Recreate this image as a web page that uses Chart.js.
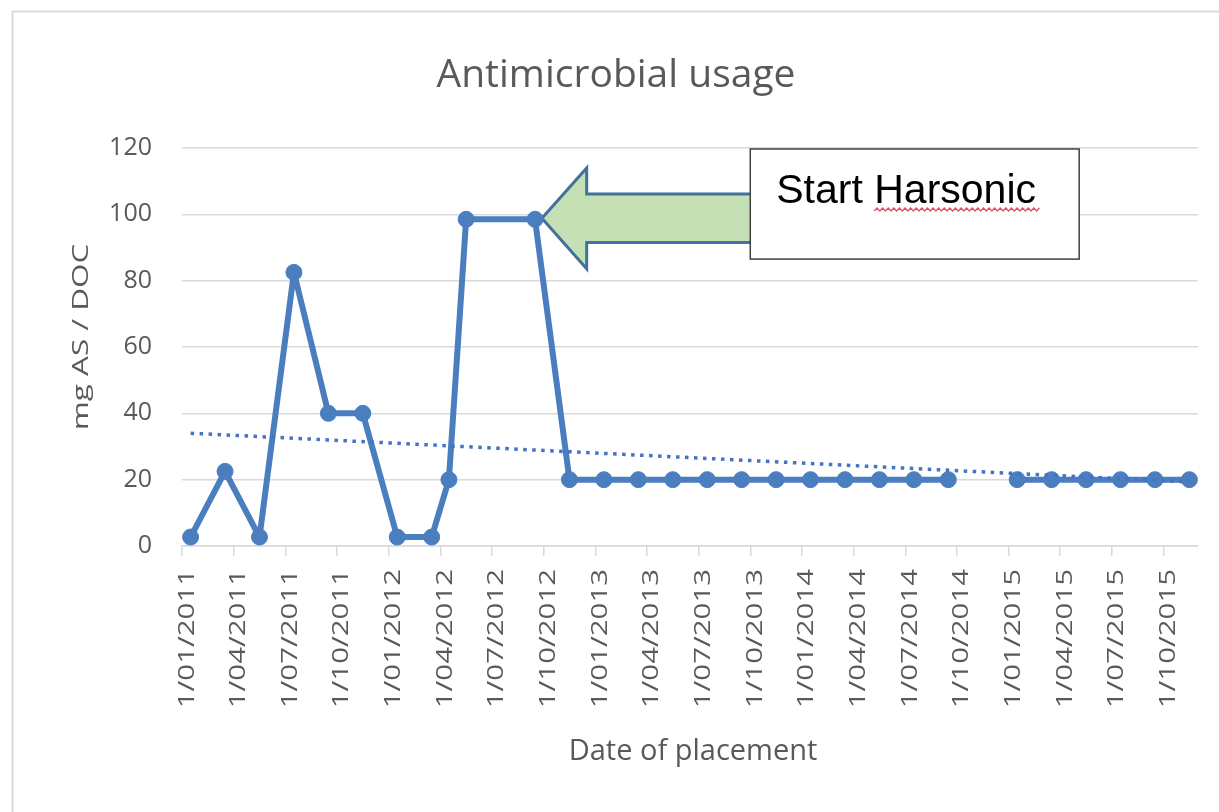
<!DOCTYPE html>
<html>
<head>
<meta charset="utf-8">
<script src="https://cdn.jsdelivr.net/npm/chart.js@4.4.1/dist/chart.umd.min.js"></script>
<style>
  html, body { margin: 0; padding: 0; background: #ffffff; }
  #wrap { width: 1219px; height: 812px; position: relative; }
</style>
</head>
<body>
<div id="wrap"><canvas id="c" width="1219" height="812"></canvas></div>
<script>
// ---------- data ----------
const chartTitle = 'Antimicrobial usage';
const xAxisTitle = 'Date of placement';
const yAxisTitle = 'mg AS / DOC';
const noteText = 'Start Harsonic';

const placementMonths = [
  '2011-01','2011-03','2011-05','2011-07','2011-09','2011-11',
  '2012-01','2012-03','2012-04','2012-05','2012-09','2012-11',
  '2013-01','2013-03','2013-05','2013-07','2013-09','2013-11',
  '2014-01','2014-03','2014-05','2014-07','2014-09','2014-11',
  '2015-01','2015-03','2015-05','2015-07','2015-09','2015-11'
];
const usage = [
  2.7, 22.5, 2.7, 82.5, 40, 40,
  2.7, 2.7, 20, 98.5, 98.5, 20,
  20, 20, 20, 20, 20, 20,
  20, 20, 20, 20, 20, null,
  20, 20, 20, 20, 20, 20
];
const trendMonths = ['2011-01', '2015-11'];
const trendValues = [34, 19.3];

const xTickLabels = [
  '1/01/2011','1/04/2011','1/07/2011','1/10/2011',
  '1/01/2012','1/04/2012','1/07/2012','1/10/2012',
  '1/01/2013','1/04/2013','1/07/2013','1/10/2013',
  '1/01/2014','1/04/2014','1/07/2014','1/10/2014',
  '1/01/2015','1/04/2015','1/07/2015','1/10/2015'
];
const yTickValues = [0, 20, 40, 60, 80, 100, 120];

// ---------- helpers ----------
const START_YEAR = 2011;
function monthPos(s) {          // centre of the month slot on a month-based date axis
  const [y, m] = s.split('-').map(Number);
  return (y - START_YEAR) * 12 + (m - 1) + 0.5;
}
function tickPos(label) {       // start of month for 1/MM/YYYY
  const [d, m, y] = label.split('/').map(Number);
  return (y - START_YEAR) * 12 + (m - 1);
}

const seriesPoints = placementMonths.map((m, i) => ({ x: monthPos(m), y: usage[i] }));
const trendPoints = trendMonths.map((m, i) => ({ x: monthPos(m), y: trendValues[i] }));

// annotation placement (in axis units)
const arrowNote = { tip: 20.9, headBack: 23.5, end: 36, value: 98.8, shaftHalf: 7.3, headHalf: 15.2 };
const boxNote = { from: 33.0, to: 52.1, top: 119.7, bottom: 86.5 };

const BLUE = '#4a7ebf';
const GREY_TEXT = '#595959';
const GRID = '#d9d9d9';

const annotationPlugin = {
  id: 'annot',
  beforeDraw(chart) {
    const ctx = chart.ctx;
    ctx.save();
    ctx.strokeStyle = '#dcdcdc';
    ctx.lineWidth = 2;
    ctx.beginPath();
    ctx.moveTo(12.5, 812);
    ctx.lineTo(12.5, 11.5);
    ctx.lineTo(1219, 11.5);
    ctx.stroke();
    ctx.restore();
  },
  beforeDatasetsDraw(chart) {
    const ctx = chart.ctx;
    const xs = chart.scales.x, ys = chart.scales.y;
    const X = v => xs.getPixelForValue(v), Y = v => ys.getPixelForValue(v);
    // arrow
    const a = arrowNote;
    const cy = Y(a.value);
    const sh = Y(a.value - a.shaftHalf) - cy;
    const hh = Y(a.value - a.headHalf) - cy;
    ctx.save();
    ctx.beginPath();
    ctx.moveTo(X(a.tip), cy);
    ctx.lineTo(X(a.headBack), cy - hh);
    ctx.lineTo(X(a.headBack), cy - sh);
    ctx.lineTo(X(a.end), cy - sh);
    ctx.lineTo(X(a.end), cy + sh);
    ctx.lineTo(X(a.headBack), cy + sh);
    ctx.lineTo(X(a.headBack), cy + hh);
    ctx.closePath();
    ctx.fillStyle = '#c5e0b4';
    ctx.fill();
    ctx.lineWidth = 3;
    ctx.lineJoin = 'miter';
    ctx.strokeStyle = '#41719c';
    ctx.stroke();
    // box
    const b = boxNote;
    const bx = X(b.from), bx2 = X(b.to), by = Y(b.top), by2 = Y(b.bottom);
    ctx.fillStyle = '#ffffff';
    ctx.fillRect(bx, by, bx2 - bx, by2 - by);
    ctx.lineWidth = 1.5;
    ctx.strokeStyle = '#404040';
    ctx.strokeRect(bx, by, bx2 - bx, by2 - by);
    // text
    ctx.font = '41px "Liberation Sans", Arial, sans-serif';
    ctx.fillStyle = '#000000';
    ctx.textAlign = 'left';
    ctx.textBaseline = 'alphabetic';
    const tx = bx + 26, ty = by + 54;
    ctx.fillText(noteText, tx, ty);
    // spell-check squiggle under second word
    const words = noteText.split(' ');
    const sx = tx + ctx.measureText(words[0] + ' ').width;
    const ex = tx + ctx.measureText(noteText).width + 2;
    ctx.beginPath();
    ctx.strokeStyle = '#e05068';
    ctx.lineWidth = 1.4;
    const wy = ty + 8;
    let up = true;
    ctx.moveTo(sx, wy);
    for (let x = sx; x < ex; x += 2.8) {
      ctx.lineTo(x + 2.8, up ? wy - 3 : wy);
      up = !up;
    }
    ctx.stroke();
    ctx.restore();
  },
  afterDraw(chart) {
    const ctx = chart.ctx;
    const xs = chart.scales.x;
    const area = chart.chartArea;
    ctx.save();
    ctx.fillStyle = GREY_TEXT;
    // title
    ctx.font = '39px "Open Sans", sans-serif';
    ctx.textAlign = 'center';
    ctx.textBaseline = 'alphabetic';
    ctx.fillText(chartTitle, 616, 87);
    // x axis title
    ctx.font = '29px "Open Sans", sans-serif';
    ctx.fillText(xAxisTitle, 693, 760);
    // y axis title (rotated)
    ctx.save();
    ctx.translate(88, 337);
    ctx.rotate(-Math.PI / 2);
    ctx.scale(1.43, 1);
    ctx.font = '22px "Open Sans", sans-serif';
    ctx.textAlign = 'center';
    ctx.fillText(yAxisTitle, 0, 0);
    ctx.restore();
    // x tick labels (rotated)
    ctx.font = '21px "Open Sans", sans-serif';
    xTickLabels.forEach(lbl => {
      const px = xs.getPixelForValue(tickPos(lbl));
      ctx.save();
      ctx.translate(px + 11.5, area.bottom + 23);
      ctx.rotate(-Math.PI / 2);
      ctx.scale(1.4, 1);
      ctx.textAlign = 'right';
      ctx.fillText(lbl, 0, 0);
      ctx.restore();
    });
    ctx.restore();
  }
};

new Chart(document.getElementById('c'), {
  type: 'line',
  data: {
    datasets: [
      {
        label: 'usage',
        data: seriesPoints,
        borderColor: BLUE,
        backgroundColor: BLUE,
        borderWidth: 6,
        borderJoinStyle: 'round',
        borderCapStyle: 'round',
        pointRadius: 8,
        pointBackgroundColor: BLUE,
        pointBorderColor: BLUE,
        pointBorderWidth: 1,
        spanGaps: false,
        tension: 0,
        order: 2
      },
      {
        label: 'trend',
        data: trendPoints,
        borderColor: '#4472c4',
        borderWidth: 3.5,
        borderDash: [3.5, 5.5],
        pointRadius: 0,
        tension: 0,
        order: 1
      }
    ]
  },
  options: {
    responsive: false,
    animation: false,
    devicePixelRatio: 1,
    layout: { padding: { top: 148, right: 21, left: 0, bottom: 0 } },
    plugins: { legend: { display: false }, tooltip: { enabled: false }, title: { display: false } },
    scales: {
      x: {
        type: 'linear',
        min: 0,
        max: 59,
        afterBuildTicks: s => { s.ticks = xTickLabels.map(l => ({ value: tickPos(l) })); },
        afterFit: s => { s.height = 266; },
        ticks: { display: false },
        grid: { drawOnChartArea: false, drawTicks: true, tickLength: 10, color: GRID, lineWidth: 1.5 },
        border: { display: true, color: GRID, width: 1.5 }
      },
      y: {
        min: 0,
        max: 120,
        afterBuildTicks: s => { s.ticks = yTickValues.map(v => ({ value: v })); },
        afterFit: s => { s.width = 182; },
        ticks: { padding: 30, color: GREY_TEXT, font: { family: 'Open Sans', size: 25 } },
        grid: { color: GRID, lineWidth: 1.5, drawTicks: false },
        border: { display: false }
      }
    }
  },
  plugins: [annotationPlugin]
});
</script>
</body>
</html>
